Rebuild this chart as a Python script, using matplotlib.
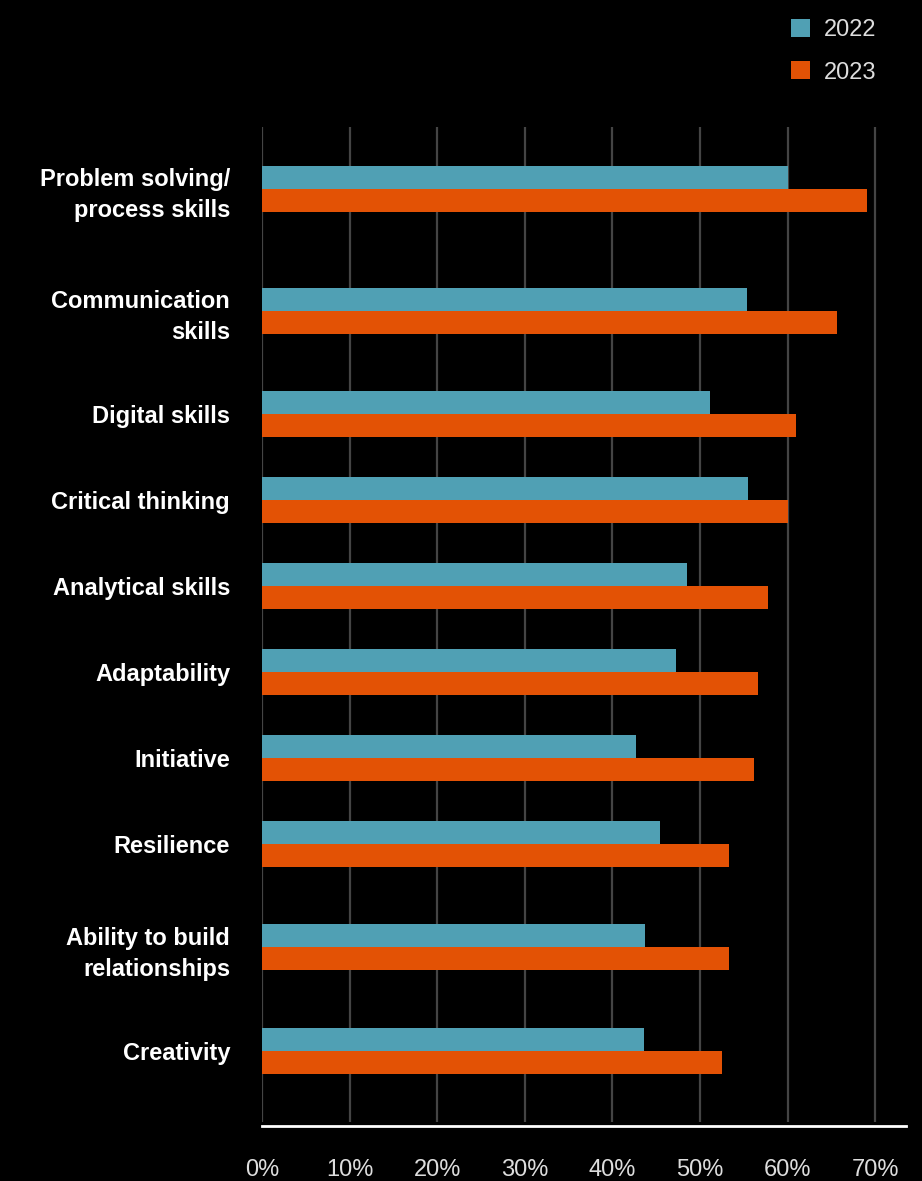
import numpy as np
import matplotlib.pyplot as plt
from matplotlib.patches import Patch

plt.rcParams['font.family'] = ['Liberation Sans', 'DejaVu Sans']

# Data (share of respondents, %)
skills = ['Problem solving/\nprocess skills', 'Communication\nskills', 'Digital skills',
          'Critical thinking', 'Analytical skills', 'Adaptability', 'Initiative',
          'Resilience', 'Ability to build\nrelationships', 'Creativity']
vals_2022 = [60.0, 55.4, 51.1, 55.5, 48.5, 47.3, 42.7, 45.4, 43.7, 43.6]
vals_2023 = [69.1, 65.6, 60.9, 60.0, 57.8, 56.6, 56.2, 53.3, 53.3, 52.5]
years = ['2022', '2023']
colors = ['#50a0b4', '#e35205']
xticks = [0, 10, 20, 30, 40, 50, 60, 70]

# row positions: two-line labels get a bit more room
n_lines = [s.count('\n') + 1 for s in skills]
pos = [0.0]
for i in range(1, len(skills)):
    gap = 86 + 18 * (n_lines[i - 1] - 1) + 18 * (n_lines[i] - 1)
    pos.append(pos[-1] + gap)
pos = np.array(pos)
bh = 23

fig = plt.figure(figsize=(9.22, 11.81), dpi=100, facecolor='black')
ax = fig.add_axes([262 / 922, 1 - 1126 / 1181, 644 / 922, 999 / 1181])
ax.set_facecolor('black')

top, bottom = pos[0] - 62, pos[-1] + 75
ax.vlines(xticks, top, bottom - 4, colors='#444444', linewidth=1.6, zorder=0)

ax.barh(pos - bh / 2, vals_2022, height=bh, color=colors[0], zorder=2)
ax.barh(pos + bh / 2, vals_2023, height=bh, color=colors[1], zorder=2)

ax.set_xlim(0, 73.5)
ax.set_ylim(bottom, top)

ax.set_yticks(pos)
ax.set_yticklabels(skills, fontsize=17, fontweight='bold', color='white',
                   linespacing=1.45, ha='right')
ax.set_xticks(xticks)
ax.set_xticklabels([f'{t}%' for t in xticks], fontsize=17, color='#dddddd')
ax.tick_params(axis='y', length=0, pad=23)
ax.tick_params(axis='x', length=0, pad=24)

for s in ['top', 'right', 'left']:
    ax.spines[s].set_visible(False)
ax.spines['bottom'].set_color('white')
ax.spines['bottom'].set_linewidth(2)

handles = [Patch(facecolor=c, edgecolor='none') for c in colors]
fig.legend(handles, years, loc='upper left', bbox_to_anchor=(791 / 922, 1 - 19 / 1181),
           frameon=False, fontsize=17, labelcolor='#dddddd', handlelength=0.8,
           handleheight=0.8, handletextpad=0.6, labelspacing=0.85,
           borderpad=0, borderaxespad=0)

fig.savefig('out.png', dpi=100, facecolor='black')
